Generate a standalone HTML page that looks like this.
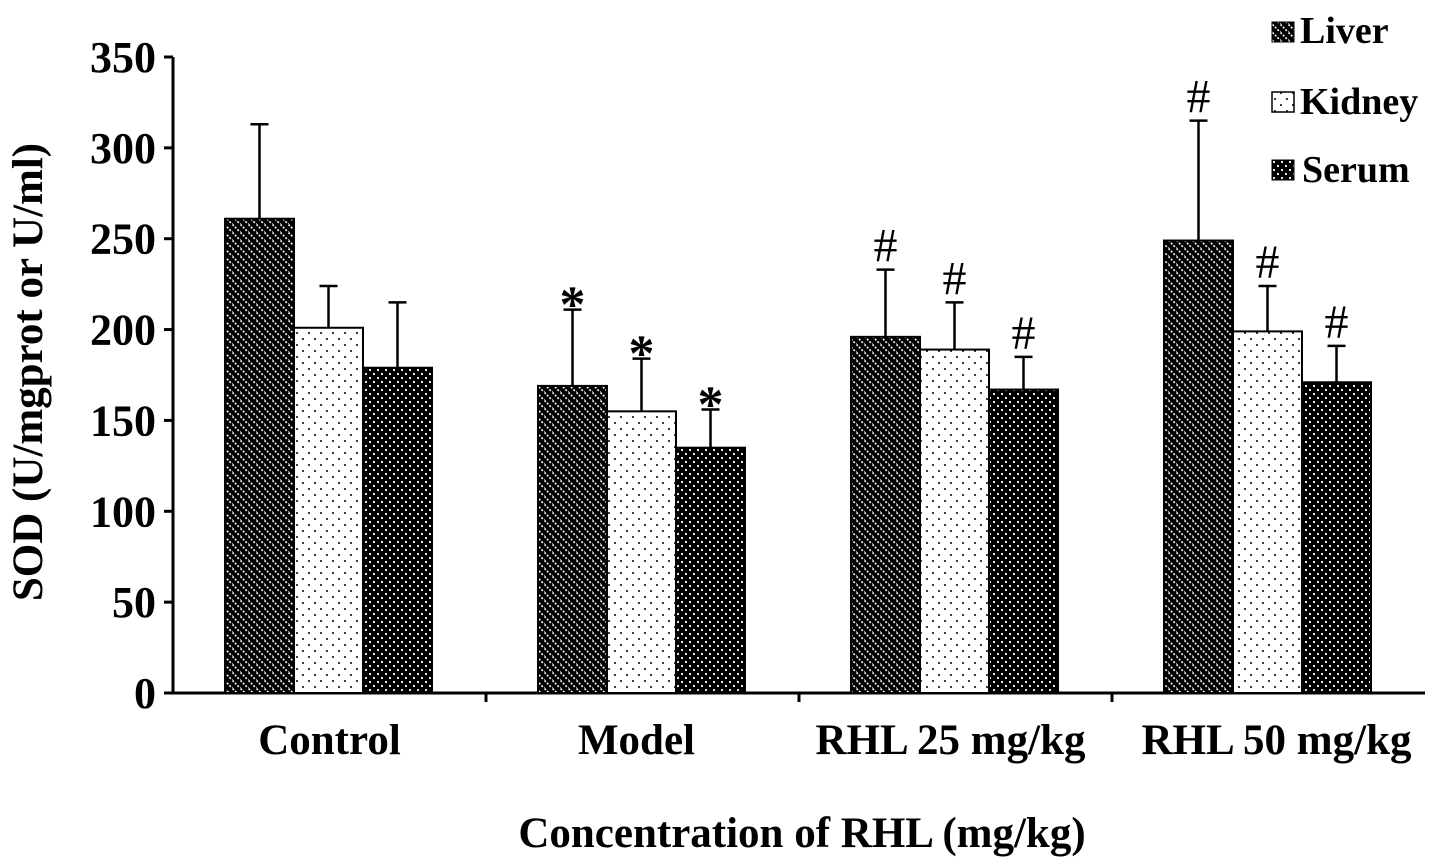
<!DOCTYPE html>
<html><head><meta charset="utf-8"><style>
body{margin:0;background:#fff}
svg{display:block;font-family:"Liberation Serif",serif;font-weight:bold}
</style></head><body>
<svg id="chart" width="1441" height="868" viewBox="0 0 1441 868">
<defs>
<pattern id="pLiver" width="8" height="8" patternUnits="userSpaceOnUse">
<rect width="8" height="8" fill="#000"/>
<path d="M-2,-2 L10,10 M-6,2 L2,10 M6,-2 L10,2" stroke="#fff" stroke-width="1.6" stroke-dasharray="2 1.5"/>
</pattern>
<pattern id="pKidney" width="12" height="12" patternUnits="userSpaceOnUse">
<rect width="12" height="12" fill="#fff"/>
<circle cx="3" cy="3" r="1" fill="#000"/><circle cx="9" cy="9" r="1" fill="#000"/>
</pattern>
<pattern id="pSerum" width="8" height="8" patternUnits="userSpaceOnUse">
<rect width="8" height="8" fill="#000"/>
<circle cx="2" cy="2" r="1.1" fill="#fff"/><circle cx="6" cy="6" r="1.1" fill="#fff"/>
</pattern>
</defs>
<g id="plot"></g>
<text x="42" y="372" font-size="43" text-anchor="middle" transform="rotate(-90 42 372)">SOD (U/mgprot or U/ml)</text>
<text x="802" y="847" font-size="43" text-anchor="middle">Concentration of RHL (mg/kg)</text>
<g font-size="38">
<rect x="1272" y="22" width="22" height="20" fill="url(#pLiver)" stroke="#000"/>
<text x="1300" y="43">Liver</text>
<rect x="1272" y="92" width="22" height="20" fill="url(#pKidney)" stroke="#000" stroke-width="1.5"/>
<text x="1300" y="114">Kidney</text>
<rect x="1272" y="160" width="22" height="20" fill="url(#pSerum)" stroke="#000"/>
<text x="1302" y="182">Serum</text>
</g>
</svg>
<script>
const categories=["Control","Model","RHL 25 mg/kg","RHL 50 mg/kg"];
const seriesNames=["Liver","Kidney","Serum"];
const liver=[261,169,196,249];
const kidney=[201,155,189,199];
const serum=[179,135,167,171];
const liverErr=[52,42,37,66];
const kidneyErr=[23,29,26,25];
const serumErr=[36,21,18,20];
const liverMark=["","*","#","#"];
const kidneyMark=["","*","#","#"];
const serumMark=["","*","#","#"];
const yTicks=[0,50,100,150,200,250,300,350];

const NS="http://www.w3.org/2000/svg";
const g=document.getElementById('plot');
const x0=173,x1=1425,y0=693,yTop=57,yMax=350;
const bw=(x1-x0)/categories.length;
function y(v){return y0-(v/yMax)*(y0-yTop);}
function mk(tag,attrs){const e=document.createElementNS(NS,tag);for(const k in attrs)e.setAttribute(k,attrs[k]);g.appendChild(e);return e;}
let a=mk('line',{x1:x0,y1:yTop,x2:x0,y2:y0,stroke:'#000','stroke-width':3});


a=mk('line',{x1:x0,y1:y0,x2:x1,y2:y0,stroke:'#000','stroke-width':3});


yTicks.forEach(t=>{
 const l=mk('line',{x1:x0-9,y1:y(t),x2:x0,y2:y(t),stroke:'#000','stroke-width':3});
 
 
 const tx=mk('text',{x:x0-17,y:y(t)+15,'font-size':44,'text-anchor':'end'});
 tx.textContent=t;
 
 
});
for(let i=1;i<categories.length;i++){
 const l=mk('line',{x1:x0+bw*i,y1:y0,x2:x0+bw*i,y2:y0+9,stroke:'#000','stroke-width':3});
 
 
}
const series=[[liver,liverErr,liverMark,'url(#pLiver)','liver'],[kidney,kidneyErr,kidneyMark,'url(#pKidney)','kidney'],[serum,serumErr,serumMark,'url(#pSerum)','serum']];
const barW=69;
const labelShift=[1,-5,-4,9];
categories.forEach((c,i)=>{
 const start=x0+bw*i+52;
 series.forEach((s,j)=>{
  const v=s[0][i],e=s[1][i];
  const bx=start+j*barW, cx=bx+barW/2;
  const el=mk('line',{x1:cx,y1:y(v),x2:cx,y2:y(v+e),stroke:'#000','stroke-width':2.5});
  
  
  const cap=mk('line',{x1:cx-9,y1:y(v+e),x2:cx+9,y2:y(v+e),stroke:'#000','stroke-width':2.5});
  
  
  const r=mk('rect',{x:bx,y:y(v),width:barW,height:y0-y(v),fill:s[3],stroke:'#000','stroke-width':2});
  
  
  if(s[2][i]){
   const star=s[2][i]=='*';
   const m=mk('text',{x:cx,y:y(v+e)-(star?-12:8),'font-size':star?52:48,'text-anchor':'middle','font-weight':star?'bold':'normal'});
   m.textContent=s[2][i];
   
   
  }
 });
 const t=mk('text',{x:start+barW*1.5+labelShift[i],y:754,'font-size':43,'text-anchor':'middle'});
 t.textContent=c;
 
 
});
</script>
</body></html>
